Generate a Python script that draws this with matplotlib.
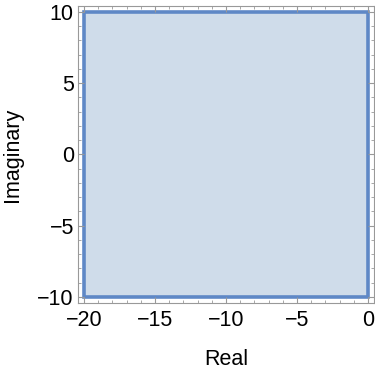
import matplotlib
matplotlib.use("Agg")
import matplotlib.pyplot as plt
from matplotlib.patches import Rectangle
from matplotlib.ticker import MultipleLocator

# region bounds
re_min, re_max = -20, 0
im_min, im_max = -10, 10
x_ticks = [-20, -15, -10, -5, 0]
y_ticks = [-10, -5, 0, 5, 10]

plt.rcParams['font.family'] = ['Liberation Sans', 'DejaVu Sans']

fig = plt.figure(figsize=(3.75, 3.69), dpi=100)
ax = fig.add_axes([0.208, 0.179, 0.789, 0.805])

rect = Rectangle((re_min, im_min), re_max - re_min, im_max - im_min,
                 facecolor='#cfdcea', edgecolor='#5f88c6', linewidth=2.6)
ax.add_patch(rect)

ax.set_xlim(-20.42, 0.42)
ax.set_ylim(-10.42, 10.42)
ax.set_xticks(x_ticks)
ax.set_xticklabels([str(t).replace('-', '\u2212') for t in x_ticks])
ax.set_yticks(y_ticks)
ax.set_yticklabels([str(t).replace('-', '\u2212') for t in y_ticks])
ax.xaxis.set_minor_locator(MultipleLocator(1))
ax.yaxis.set_minor_locator(MultipleLocator(1))

ax.tick_params(which='both', direction='in', top=True, right=True,
               color='#999999', labelsize=15.5, labelcolor='black')
ax.tick_params(which='major', length=4, width=0.8, pad=3)
ax.tick_params(axis='x', which='major', pad=5)
ax.tick_params(which='minor', length=2, width=0.6)
for s in ax.spines.values():
    s.set_color('#999999')
    s.set_linewidth(0.8)

ax.set_xlabel("Real", fontsize=15.5, labelpad=13)
ax.set_ylabel("Imaginary", fontsize=15.5, labelpad=10)

fig.savefig("out.png", dpi=100)
